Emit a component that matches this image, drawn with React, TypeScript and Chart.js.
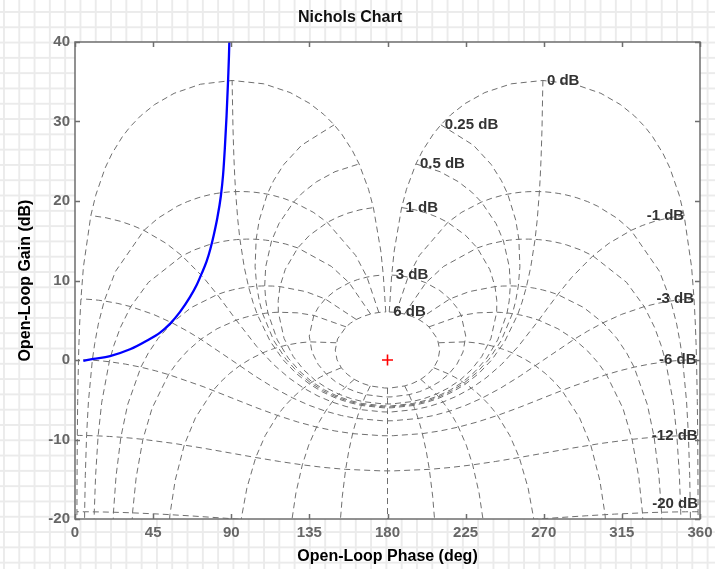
import React, { useEffect, useRef } from 'react';
import { Chart, registerables } from 'chart.js';

Chart.register(...registerables);

// Axis ticks
const xTickValues = [0, 45, 90, 135, 180, 225, 270, 315, 360];
const yTickValues = [-20, -10, 0, 10, 20, 30, 40];

// Open-loop response (phase deg, gain dB)
const curvePhase = [4.8, 10.6, 20.2, 31.7, 41.3, 49.0, 54.7, 60.5, 66.2, 70.0, 73.0, 75.8, 78.0, 80.0, 82.0, 84.0, 85.3, 86.3, 87.3, 88.2, 88.9, 89.3];
const curveGain = [-0.1, 0.13, 0.5, 1.35, 2.43, 3.45, 4.55, 6.05, 7.9, 9.4, 10.9, 12.4, 14.0, 15.8, 17.9, 20.6, 23.3, 26.6, 30.7, 35.3, 40.0, 45.0];

// Critical point
const criticalPhase = [180];
const criticalGain = [0];

// Nichols grid: closed-loop gain levels (labelled) and closed-loop phase levels
const magLevels = [6, 3, 1, 0.5, 0.25, 0, -1, -3, -6, -12, -20];
const phaseLevels = [1, 5, 10, 20, 30, 50, 90, 120, 150, 180];
// sample points along the contours
const phaseSamples = [1, 2, 3, 4, 5, 7.5, 10, 15, 20, 25, 30, 45, 60, 75, 90, 105, 120, 135, 150, 175, 180];
const magSamples = [6, 3, 2, 1, 0.75, 0.5, 0.4, 0.3, 0.25, 0.2, 0.15, 0.1, 0.05, 0, -0.05, -0.1, -0.15, -0.2, -0.25, -0.3, -0.4, -0.5, -0.75, -1, -2, -3, -4, -5, -6, -9, -12, -16, -20, -30, -40];

const FONT = "'Liberation Sans', Arial, Helvetica, sans-serif";
const GRID_COLOR = 'rgba(95,95,95,0.9)';

function openLoop(magDb: number, clPhase: number) {
  const M = Math.pow(10, magDb / 20);
  const a = (-clPhase * Math.PI) / 180;
  const tr = M * Math.cos(a);
  const ti = M * Math.sin(a);
  const dr = 1 - tr;
  const di = -ti;
  const den = dr * dr + di * di;
  const gr = (tr * dr + ti * di) / den;
  const gi = (ti * dr - tr * di) / den;
  let ph = (Math.atan2(gi, gr) * 180) / Math.PI;
  if (ph < 0) ph += 360;
  const g = 20 * Math.log10(Math.hypot(gr, gi));
  return { x: ph, y: g };
}

function buildGridDatasets() {
  const sets: any[] = [];
  const fullPhase: number[] = [...phaseSamples];
  for (let i = phaseSamples.length - 2; i >= 0; i--) fullPhase.push(360 - phaseSamples[i]);
  magLevels.forEach((m) => {
    sets.push({
      data: fullPhase.map((p) => openLoop(m, p)),
    });
  });
  phaseLevels.forEach((p) => {
    const list = p === 180 ? [180] : [p, 360 - p];
    list.forEach((pp) => {
      sets.push({ data: magSamples.map((m) => openLoop(m, pp)) });
    });
  });
  return sets.map((s) => ({
    ...s,
    showLine: true,
    borderColor: GRID_COLOR,
    borderWidth: 1,
    borderDash: [6, 4],
    pointRadius: 0,
    tension: 0,
    order: 5,
  }));
}

const whitePlot = {
  id: 'whitePlot',
  beforeDraw(chart: any) {
    const { ctx, chartArea } = chart;
    ctx.save();
    ctx.fillStyle = '#ffffff';
    ctx.fillRect(chartArea.left, chartArea.top, chartArea.right - chartArea.left, chartArea.bottom - chartArea.top);
    ctx.restore();
  },
};

const gridLabels = {
  id: 'gridLabels',
  afterDatasetsDraw(chart: any) {
    const { ctx, chartArea, scales } = chart;
    ctx.save();
    ctx.font = `bold 15px ${FONT}`;
    ctx.fillStyle = '#333333';
    ctx.textBaseline = 'middle';
    magLevels.forEach((m) => {
      const pt = openLoop(m, 1);
      const px = scales.x.getPixelForValue(pt.x);
      let py = scales.y.getPixelForValue(pt.y);
      py = Math.max(chartArea.top + 8, Math.min(chartArea.bottom - 15, py));
      const text = `${m} dB`;
      if (m < 0) {
        ctx.textAlign = 'right';
        ctx.fillText(text, px, py);
      } else {
        ctx.textAlign = 'left';
        ctx.fillText(text, px + 4, py);
      }
    });
    ctx.restore();
  },
};

const boxPlugin = {
  id: 'boxPlugin',
  afterDraw(chart: any) {
    const { ctx, chartArea, scales } = chart;
    const { left, right, top, bottom } = chartArea;
    const tl = 5;
    ctx.save();
    ctx.strokeStyle = '#6e6e6e';
    ctx.lineWidth = 1.5;
    ctx.beginPath();
    xTickValues.forEach((v) => {
      const px = Math.round(scales.x.getPixelForValue(v)) + 0.5;
      ctx.moveTo(px, bottom);
      ctx.lineTo(px, bottom - tl);
      ctx.moveTo(px, top);
      ctx.lineTo(px, top + tl);
    });
    yTickValues.forEach((v) => {
      const py = Math.round(scales.y.getPixelForValue(v)) + 0.5;
      ctx.moveTo(left, py);
      ctx.lineTo(left + tl, py);
      ctx.moveTo(right, py);
      ctx.lineTo(right - tl, py);
    });
    ctx.stroke();
    ctx.strokeRect(left, top, right - left, bottom - top);
    ctx.restore();
  },
};

export default function App() {
  const ref = useRef<HTMLCanvasElement | null>(null);

  useEffect(() => {
    if (!ref.current) return;
    const datasets: any[] = [
      {
        data: curvePhase.map((p, i) => ({ x: p, y: curveGain[i] })),
        showLine: true,
        borderColor: '#0000ff',
        borderWidth: 2.3,
        pointRadius: 0,
        cubicInterpolationMode: 'monotone',
        order: 0,
      },
      {
        data: criticalPhase.map((p, i) => ({ x: p, y: criticalGain[i] })),
        showLine: false,
        pointStyle: 'cross',
        pointRadius: 5.5,
        borderColor: '#ff0000',
        backgroundColor: '#ff0000',
        borderWidth: 1.6,
        order: 1,
      },
      ...buildGridDatasets(),
    ];

    const chart = new Chart(ref.current, {
      type: 'scatter',
      data: { datasets },
      options: {
        animation: false,
        responsive: false,
        devicePixelRatio: 1,
        events: [],
        layout: { padding: { left: 0, right: 15, top: 0, bottom: 0 } },
        plugins: {
          legend: { display: false },
          tooltip: { enabled: false },
          title: {
            display: true,
            text: 'Nichols Chart',
            color: '#111111',
            font: { family: FONT, size: 16, weight: 'bold' },
            padding: { top: 8, bottom: 14.8 },
          },
        },
        scales: {
          x: {
            type: 'linear',
            min: 0,
            max: 360,
            afterBuildTicks: (scale: any) => {
              scale.ticks = xTickValues.map((v) => ({ value: v }));
            },
            afterFit: (scale: any) => {
              scale.height = 50;
              scale.paddingLeft = 0;
              scale.paddingRight = 0;
            },
            grid: { display: false, drawTicks: false },
            border: { display: false },
            ticks: {
              color: '#666666',
              font: { family: FONT, size: 15, weight: 'bold' },
              padding: 5,
              maxRotation: 0,
              autoSkip: false,
            },
            title: {
              display: true,
              text: 'Open-Loop Phase (deg)',
              color: '#000000',
              font: { family: FONT, size: 16, weight: 'bold' },
              padding: { top: 0, bottom: 3 },
            },
          },
          y: {
            type: 'linear',
            min: -20,
            max: 40,
            afterBuildTicks: (scale: any) => {
              scale.ticks = yTickValues.map((v) => ({ value: v }));
            },
            afterFit: (scale: any) => {
              scale.width = 75;
              scale.paddingTop = 0;
              scale.paddingBottom = 0;
            },
            grid: { display: false, drawTicks: false },
            border: { display: false },
            ticks: {
              color: '#666666',
              font: { family: FONT, size: 15, weight: 'bold' },
              padding: 5,
              autoSkip: false,
            },
            title: {
              display: true,
              text: 'Open-Loop Gain (dB)',
              color: '#000000',
              font: { family: FONT, size: 16, weight: 'bold' },
              padding: { top: 16, bottom: 0 },
            },
          },
        },
      } as any,
      plugins: [whitePlot, gridLabels, boxPlugin],
    });
    return () => chart.destroy();
  }, []);

  return (
    <div
      style={{
        position: 'absolute',
        left: 0,
        top: 0,
        width: 715,
        height: 569,
        backgroundColor: '#ffffff',
        backgroundImage:
          'linear-gradient(#ebebeb 2px, transparent 2px), linear-gradient(90deg, #ebebeb 2px, transparent 2px)',
        backgroundSize: '15.3px 15.3px',
        backgroundPosition: '3px 11px',
      }}
    >
      <canvas ref={ref} width={715} height={569} style={{ display: 'block', width: 715, height: 569 }} />
    </div>
  );
}
